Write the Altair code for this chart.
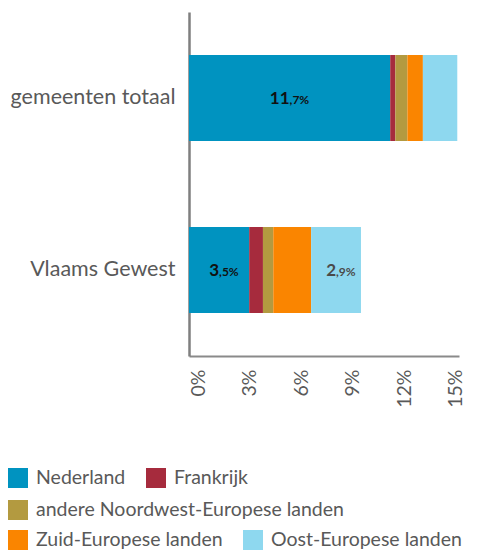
import altair as alt
import pandas as pd

regions = ["gemeenten totaal", "Vlaams Gewest"]
categories = ["Nederland", "Frankrijk", "andere Noordwest-Europese landen",
              "Zuid-Europese landen", "Oost-Europese landen"]
colors = ["#0093C0", "#A62B3D", "#B39A40", "#FA8500", "#8ED8EF"]
gemeenten_totaal = [11.7, 0.3, 0.7, 0.9, 2.0]
vlaams_gewest = [3.5, 0.8, 0.6, 2.2, 2.9]
legend_rows = [[0, 1], [2], [3, 4]]
x_ticks = [0, 3, 6, 9, 12, 15]

rows = []
for reg, vals in zip(regions, [gemeenten_totaal, vlaams_gewest]):
    for i, (c, v) in enumerate(zip(categories, vals)):
        rows.append({"regio": reg, "cat": c, "order": i, "value": v})
df = pd.DataFrame(rows)

FONT = "Lato"
GRAY = "#595959"

y_enc = alt.Y("regio:N", sort=regions, title=None,
              scale=alt.Scale(paddingInner=0.5, paddingOuter=0.25),
              axis=alt.Axis(labelFont=FONT, labelFontSize=21.5, labelColor=GRAY,
                            labelPadding=14, ticks=False, domainColor="#7f7f7f",
                            domainWidth=2.5))
x_scale = alt.Scale(domain=[0, 15.7], nice=False, zero=True)
x_axis = alt.Axis(values=x_ticks, labelExpr="datum.value + '%'", labelAngle=270,
                  labelAlign="right", labelBaseline="top", labelFont=FONT,
                  labelFontSize=19.5, labelColor=GRAY, labelPadding=13,
                  ticks=False, grid=False, domainColor="#8a8a8a", domainWidth=2)

base = alt.Chart(df).transform_stack(
    stack="value", groupby=["regio"], as_=["x0", "x1"],
    sort=[alt.SortField("order", order="ascending")]
)

legend_y = [456, 488, 518]
layers = []
for gi, idx in enumerate(legend_rows):
    cats = [categories[i] for i in idx]
    cols = [colors[i] for i in idx]
    layer = base.transform_filter(
        alt.FieldOneOfPredicate(field="cat", oneOf=cats)
    ).mark_bar().encode(
        y=y_enc,
        x=alt.X("x0:Q", scale=x_scale, axis=x_axis, title=None),
        x2="x1:Q",
        color=alt.Color("cat:N", scale=alt.Scale(domain=cats, range=cols),
                        legend=alt.Legend(orient="none", legendX=-181,
                                          legendY=legend_y[gi],
                                          direction="horizontal", title=None,
                                          symbolType="square", symbolSize=400,
                                          symbolStrokeWidth=0, symbolOpacity=1,
                                          labelFont=FONT, labelFontSize=19.5,
                                          labelColor=GRAY, labelOffset=8,
                                          columnPadding=20, padding=0,
                                          labelLimit=400)),
    )
    layers.append(layer)

lbl = base.transform_filter("datum.value >= 2.5").transform_calculate(
    mid="(datum.x0 + datum.x1) / 2",
    s="format(datum.value, '.1f')",
).transform_calculate(
    ipart="split(datum.s, '.')[0]",
    dpart="',' + split(datum.s, '.')[1] + '%'",
    lc="datum.cat == 'Oost-Europese landen' ? '#4a4a4a' : '#111111'",
).transform_calculate(
    off="-(length(datum.dpart) * 7.7 - length(datum.ipart) * 9.5) / 2"
)

int_text = lbl.mark_text(align="right", baseline="alphabetic", dy=6,
                         font=FONT, fontSize=17, fontWeight="bold").encode(
    y=y_enc,
    x=alt.X("mid:Q", scale=x_scale),
    xOffset=alt.XOffset("off:Q", scale=None),
    text="ipart:N",
    color=alt.Color("lc:N", scale=None),
)
dec_text = lbl.mark_text(align="left", baseline="alphabetic", dy=6,
                         font=FONT, fontSize=12, fontWeight="bold").encode(
    y=y_enc,
    x=alt.X("mid:Q", scale=x_scale),
    xOffset=alt.XOffset("off:Q", scale=None),
    text="dpart:N",
    color=alt.Color("lc:N", scale=None),
)

chart = alt.layer(*layers, int_text, dec_text).resolve_scale(
    color="independent"
).properties(
    width=270, height=344,
    autosize=alt.AutoSizeParams(type="none"),
    padding={"left": 181, "top": 4, "right": 11, "bottom": 196},
).configure_view(stroke=None)

chart.save("out.html", embed_options={"renderer": "svg", "actions": False})
